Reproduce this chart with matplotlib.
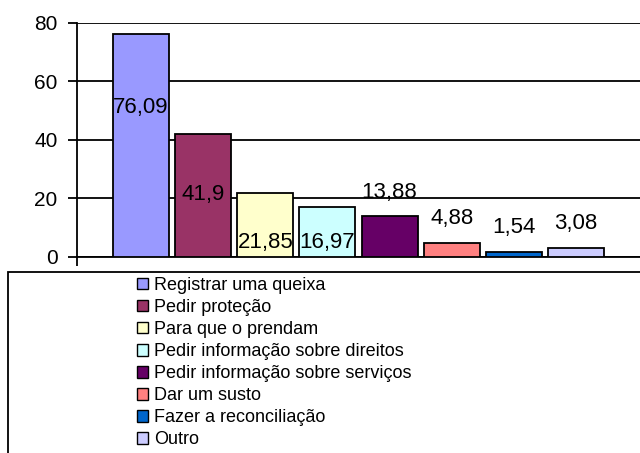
import numpy as np
import matplotlib
matplotlib.use("Agg")
import matplotlib.pyplot as plt
from matplotlib.patches import Rectangle, Patch

plt.rcParams['font.family'] = ['Liberation Sans', 'DejaVu Sans']

categorias = ["Registrar uma queixa", "Pedir proteção", "Para que o prendam",
              "Pedir informação sobre direitos", "Pedir informação sobre serviços",
              "Dar um susto", "Fazer a reconciliação", "Outro"]
valores = [76.09, 41.9, 21.85, 16.97, 13.88, 4.88, 1.54, 3.08]
rotulos = ["76,09", "41,9", "21,85", "16,97", "13,88", "4,88", "1,54", "3,08"]
cores = ["#9999FF", "#993366", "#FFFFCC", "#CCFFFF", "#660066", "#FF8080", "#0066CC", "#CCCCFF"]
# label heights as placed in the original (Excel odd placement)
rotulo_y = [51.2, 21.2, 5.1, 5.1, 21.9, 13.3, 10.2, 11.3]

fig = plt.figure(figsize=(6.4, 4.53), dpi=100)
ax = fig.add_axes([77/640, 1-257/453, 563/640, 234.3/453])

x = np.arange(len(valores))
ax.bar(x, valores, width=0.9, color=cores, edgecolor="black", linewidth=1.3, zorder=3)
for xi, ly, t in zip(x, rotulo_y, rotulos):
    ax.text(xi, ly, t, ha="center", va="center", fontsize=16, zorder=4)

ax.set_xlim(-1.03, 8.03)
ax.set_ylim(0, 80)
ax.set_yticks([0, 20, 40, 60, 80])
ax.yaxis.grid(True, color="black", linewidth=1.3, zorder=0)
ax.tick_params(axis="y", labelsize=15, length=6.5, width=1.3, direction="out", pad=7.5)
ax.set_xticks([-1.03])
ax.set_xticklabels([])
ax.tick_params(axis="x", length=6.5, width=1.3, direction="out")
for s in ["top", "right"]:
    ax.spines[s].set_visible(False)
for s in ["left", "bottom"]:
    ax.spines[s].set_linewidth(1.3)

# legend box
fig.patches.append(Rectangle((8/640, -0.05), 1.0, 1-272/453+0.05, transform=fig.transFigure,
                             facecolor="white", edgecolor="black", linewidth=1.3, zorder=0))
handles = [Patch(facecolor=c, edgecolor="black", linewidth=1.0) for c in cores]
fig.legend(handles, categorias, loc="upper left", bbox_to_anchor=(137/640, 1-277/453),
           frameon=False, fontsize=13, handlelength=0.6, handleheight=0.6,
           handletextpad=0.35, labelspacing=0.28, borderpad=0, borderaxespad=0)

fig.savefig("out.png", dpi=100)
